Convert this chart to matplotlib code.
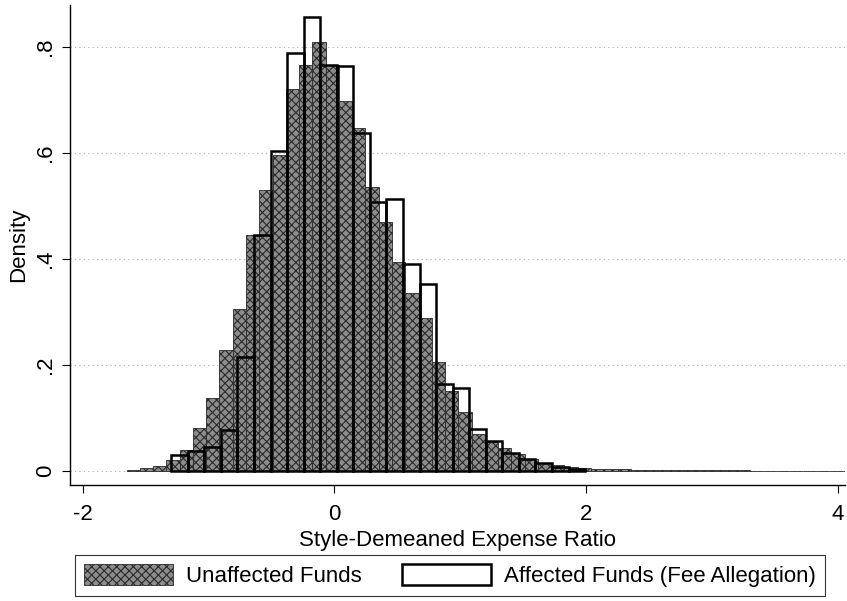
import matplotlib
matplotlib.use("Agg")
import matplotlib.pyplot as plt
import numpy as np

# Unaffected funds: density per bin (bin start and width)
unaffected_start = -1.650
unaffected_binwidth = 0.1054
unaffected_density = [
    0.002, 0.005, 0.010, 0.020, 0.040, 0.081, 0.137, 0.228, 0.305, 0.445,
    0.530, 0.596, 0.720, 0.765, 0.810, 0.765, 0.697, 0.647, 0.536, 0.470,
    0.395, 0.336, 0.289, 0.205, 0.150, 0.112, 0.070, 0.055, 0.043, 0.033,
    0.023, 0.016, 0.011, 0.008, 0.006, 0.004, 0.003, 0.003, 0.002, 0.002,
    0.002, 0.0015, 0.0015, 0.001, 0.001, 0.001, 0.001, 0.0008, 0.0008, 0.0006,
    0.0006, 0.0005, 0.0005, 0.0005, 0.0004, 0.0004, 0.0004, 0.0003, 0.0003,
    0.0003, 0.0003,
]

# Affected funds (fee allegation)
affected_start = -1.296
affected_binwidth = 0.1315
affected_density = [
    0.030, 0.038, 0.046, 0.077, 0.215, 0.445, 0.604, 0.788, 0.857, 0.765,
    0.763, 0.637, 0.508, 0.513, 0.390, 0.353, 0.165, 0.156, 0.079, 0.057,
    0.034, 0.022, 0.015, 0.007, 0.004,
]

xticks = [-2, 0, 2, 4]
xtick_labels = ["-2", "0", "2", "4"]
yticks = [0, 0.2, 0.4, 0.6, 0.8]
ytick_labels = ["0", ".2", ".4", ".6", ".8"]

plt.rcParams["font.family"] = ["Liberation Sans Narrow", "Liberation Sans", "DejaVu Sans"]
plt.rcParams["hatch.linewidth"] = 0.8

fig = plt.figure(figsize=(8.47, 6.01), dpi=100)
ax = fig.add_axes([0.0826, 0.193, 0.915, 0.7987])

u_left = unaffected_start + unaffected_binwidth * np.arange(len(unaffected_density))
a_left = affected_start + affected_binwidth * np.arange(len(affected_density))

ax.bar(u_left, unaffected_density, width=unaffected_binwidth, align="edge",
       facecolor="#8c8c8c", edgecolor="#2a2a2a", hatch="xxxx", linewidth=0.6,
       label="Unaffected Funds", zorder=2)
ax.bar(a_left, affected_density, width=affected_binwidth, align="edge",
       fill=False, edgecolor="black", linewidth=1.8,
       label="Affected Funds (Fee Allegation)", zorder=3)

for y in yticks:
    ax.axhline(y, color="#b0b0b0", linestyle=(0, (1, 3)), linewidth=0.8, zorder=1)

ax.set_xlim(-2.1, 4.056)
ax.set_ylim(-0.0264, 0.879)
ax.set_xticks(xticks)
ax.set_xticklabels(xtick_labels)
ax.set_yticks(yticks)
ax.set_yticklabels(ytick_labels, rotation=90, va="center")
ax.tick_params(labelsize=16, length=6, width=0.8, direction="out", pad=4)
ax.tick_params(axis="x", pad=8)

ax.spines["top"].set_visible(False)
ax.spines["right"].set_visible(False)
ax.spines["left"].set_linewidth(1.0)
ax.spines["bottom"].set_linewidth(1.0)

ax.set_xlabel("Style-Demeaned Expense Ratio", fontsize=16, labelpad=3)
ax.set_ylabel("Density", fontsize=16, labelpad=4)

handles, labels = ax.get_legend_handles_labels()
leg = fig.legend(handles, labels, loc="center", bbox_to_anchor=(0.531, 0.043),
                 ncol=2, fontsize=16, frameon=True, fancybox=False,
                 handlelength=4.0, handleheight=1.1, handletextpad=0.6,
                 columnspacing=1.8, borderpad=0.4)
leg.get_frame().set_edgecolor("black")
leg.get_frame().set_linewidth(0.8)

fig.savefig("out.png", dpi=100)
